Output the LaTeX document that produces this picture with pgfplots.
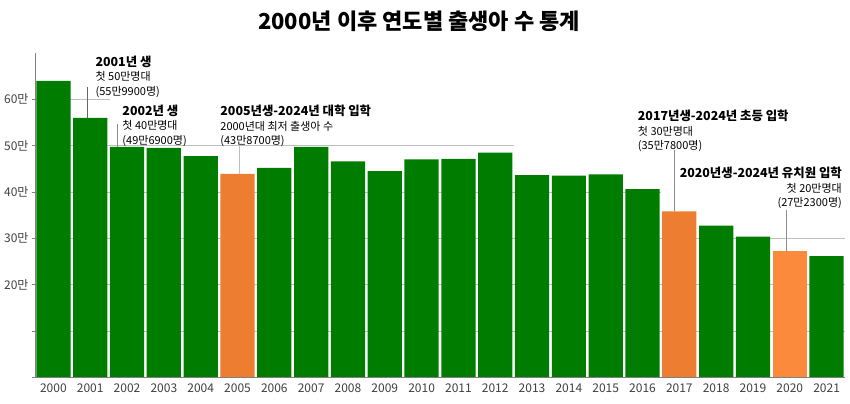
\documentclass[border=0pt]{standalone}
\usepackage{fontspec}
\setmainfont{Noto Sans CJK KR}
\usepackage{pgfplots}
\pgfplotsset{compat=1.18}

\definecolor{bargreen}{HTML}{007D00}
\definecolor{barorange}{HTML}{ED7D31}
\definecolor{barorange2}{HTML}{FB8A3C}
\definecolor{gridgray}{HTML}{BFBFBF}
\definecolor{leadgray}{HTML}{8C8C8C}

\newcommand{\B}[1]{{\fontsize{12.4}{14.5}\selectfont\bfseries #1}}

\begin{document}
\begin{tikzpicture}
\begin{axis}[
  set layers,
  scale only axis,
  width=810pt, height=324pt,
  xmin=-0.5, xmax=21.5, ymin=0, ymax=70,
  axis x line=bottom, axis y line=left,
  axis line style={-, draw=gray},
  xtick={0,...,21},
  xticklabels={2000,2001,2002,2003,2004,2005,2006,2007,2008,2009,2010,2011,2012,2013,2014,2015,2016,2017,2018,2019,2020,2021},
  x tick style={draw=none},
  ytick={0,10,20,30,40,50,60},
  yticklabels={,,20만,30만,40만,50만,60만},
  y tick style={draw=gray},
  tick align=outside,
  major tick length=3pt,
  ticklabel style={font=\fontsize{12}{12}\selectfont, text=black!75},
  clip=false,
]
% grid segments behind the bars
\begin{pgfonlayer}{axis background}
  \draw[gridgray] (axis cs:-0.5,10) -- (axis cs:21.5,10);
  \draw[gridgray] (axis cs:-0.5,20) -- (axis cs:21.5,20);
  \draw[gridgray] (axis cs:-0.5,30) -- (axis cs:21.5,30);
  \draw[gridgray] (axis cs:-0.5,40) -- (axis cs:16.5,40);
  \draw[gridgray] (axis cs:-0.5,50) -- (axis cs:12.5,50);
  \draw[gridgray] (axis cs:-0.5,60) -- (axis cs:1.55,60);
\end{pgfonlayer}

\addplot[ybar, bar width=0.93, bar shift=0pt, fill=bargreen, draw=none] coordinates {
  (0,64.0) (1,56.0) (2,49.7) (3,49.5) (4,47.7)
  (6,45.2) (7,49.7) (8,46.6) (9,44.5) (10,47.0) (11,47.1) (12,48.5)
  (13,43.6) (14,43.5) (15,43.8) (16,40.6)
  (18,32.7) (19,30.3) (21,26.1)
};
\addplot[ybar, bar width=0.93, bar shift=0pt, fill=barorange, draw=none] coordinates {
  (5,43.9) (17,35.8)
};
\addplot[ybar, bar width=0.93, bar shift=0pt, fill=barorange2, draw=none] coordinates {
  (20,27.2)
};

% leaders
\draw[black!60] (axis cs:0.92,62.6) -- (axis cs:0.92,56.0);
\draw[leadgray] (axis cs:1.74,54.6) -- (axis cs:1.74,49.7);
\draw[gridgray] (axis cs:5.05,50) -- (axis cs:5.05,43.9);
\draw[leadgray] (axis cs:16.85,49.0) -- (axis cs:16.85,35.8);
\draw[leadgray] (axis cs:19.89,36.1) -- (axis cs:19.89,27.2);

% annotations
\tikzset{ann/.style={align=left, anchor=north west, inner sep=0pt,
  font=\fontsize{11}{14.5}\selectfont}}
\node[ann] at (axis cs:1.14,69.4) {\B{2001년 생}\\첫 50만명대\\(55만9900명)};
\node[ann] at (axis cs:1.87,58.8) {\B{2002년 생}\\첫 40만명대\\(49만6900명)};
\node[ann] at (axis cs:4.53,58.8) {\B{2005년생-2024년 대학 입학}\\2000년대 최저 출생아 수\\(43만8700명)};
\node[ann] at (axis cs:15.87,57.7) {\B{2017년생-2024년 초등 입학}\\첫 30만명대\\(35만7800명)};
\node[ann, align=right, anchor=north east] at (axis cs:21.42,45.4) {\B{2020년생-2024년 유치원 입학}\\첫 20만명대\\(27만2300명)};

% title
\node[font=\bfseries\fontsize{22}{26}\selectfont] at (axis cs:9.93,76.9) {2000년 이후 연도별 출생아 수 통계};

\coordinate (BL) at (rel axis cs:0,0);
\coordinate (TR) at (rel axis cs:1,1);
\end{axis}
\pgfresetboundingbox
\path ([xshift=-35pt,yshift=-27pt]BL) rectangle ([xshift=5pt,yshift=53pt]TR);
\end{tikzpicture}
\end{document}
